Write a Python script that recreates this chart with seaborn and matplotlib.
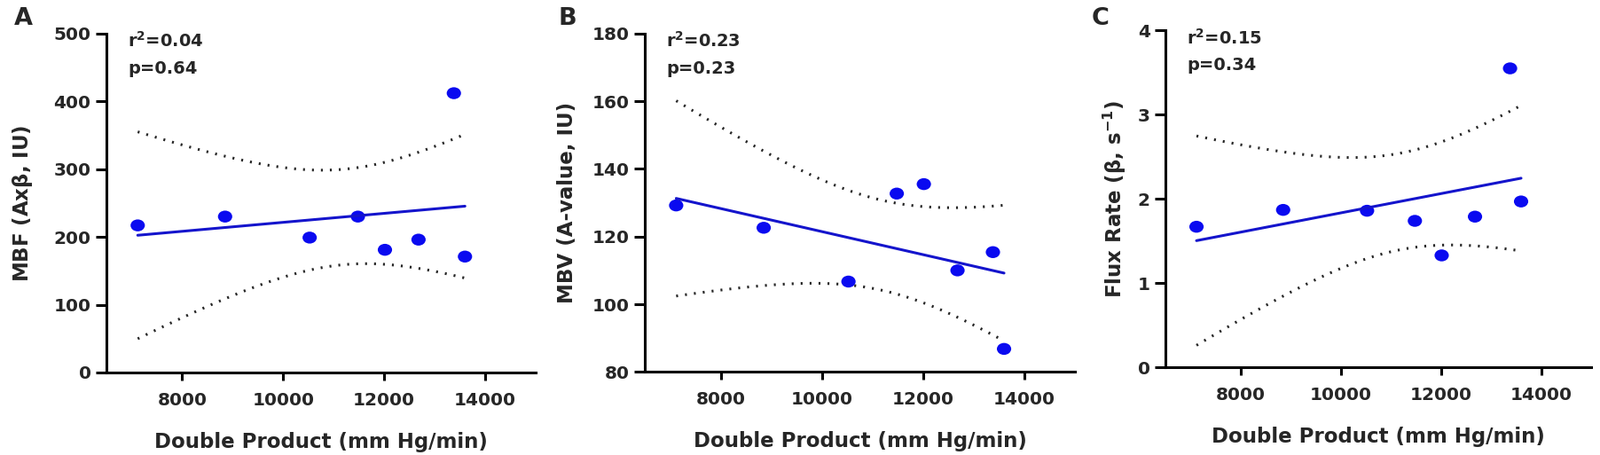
import numpy as np
import pandas as pd
import seaborn as sns
from matplotlib import pyplot as plt
from matplotlib.path import Path
from matplotlib.markers import MarkerStyle
from matplotlib.transforms import Affine2D

# Data ===================================================================
double_product = [7120, 8850, 10525, 11480, 12015, 12680, 13380, 13600]
mbf = [217, 230, 199, 230, 181, 196, 412, 171]
mbv = [129.2, 122.6, 106.7, 132.7, 135.5, 110.0, 115.4, 86.8]
flux_rate = [1.67, 1.87, 1.86, 1.74, 1.33, 1.79, 3.55, 1.97]

panel_letters = ["A", "B", "C"]
y_labels = [r"MBF (Ax$\mathbf{\beta}$, IU)", "MBV (A-value, IU)",
            r"Flux Rate ($\mathbf{\beta}$, s$^{\mathbf{-1}}$)"]
r2_text = [r"r$^{\mathbf{2}}$=0.04", r"r$^{\mathbf{2}}$=0.23", r"r$^{\mathbf{2}}$=0.15"]
p_text = ["p=0.64", "p=0.23", "p=0.34"]
y_limits = [(0, 500), (80, 180), (0, 4)]
y_ticks = [np.arange(0, 501, 100), np.arange(80, 181, 20), np.arange(0, 5, 1)]
x_ticks = [8000, 10000, 12000, 14000]

sns.set_style("ticks")
plt.rcParams["font.family"] = ["DejaVu Sans"]
plt.rcParams["font.weight"] = "bold"
plt.rcParams["mathtext.fontset"] = "dejavusans"
plt.rcParams["mathtext.default"] = "bf"

fig = plt.figure(figsize=(18.04, 5.13), dpi=100)
# [left, bottom, width, height] in figure fractions
positions = [[0.0665, 0.1813, 0.2683, 0.7450],
             [0.4030, 0.1826, 0.2688, 0.7437],
             [0.7284, 0.1924, 0.2661, 0.7407]]
letter_x = [0.009, 0.349, 0.682]
ylabel_x = [-0.196, -0.181, -0.119]

# the original is slightly stretched sideways, so dots are a bit oval
oval = MarkerStyle(Path.unit_circle().transformed(Affine2D().scale(1.2, 1.0)))


# 95% confidence band of a linear fit
def conf_band(x, y, xs):
    x = np.asarray(x, float)
    y = np.asarray(y, float)
    n = len(x)
    slope, icpt = np.polyfit(x, y, 1)
    resid = y - (slope * x + icpt)
    s = np.sqrt(np.sum(resid ** 2) / (n - 2))
    sxx = np.sum((x - x.mean()) ** 2)
    se = s * np.sqrt(1 / n + (xs - x.mean()) ** 2 / sxx)
    t = 2.447  # t(0.975, df=6)
    fit = slope * xs + icpt
    return fit, fit - t * se, fit + t * se


for i, yvals in enumerate([mbf, mbv, flux_rate]):
    ax = fig.add_axes(positions[i])
    df = pd.DataFrame({"x": double_product, "y": yvals})
    xs = np.linspace(min(double_product), max(double_product), 100)
    fit, lo, hi = conf_band(df["x"], df["y"], xs)

    dots = (0, (0.7, 2.6))
    ax.plot(xs, lo, color="#262626", lw=2.2, linestyle=dots)
    ax.plot(xs, hi, color="#262626", lw=2.2, linestyle=dots)
    sns.scatterplot(data=df, x="x", y="y", ax=ax, color="#0a0af0",
                    s=135, marker=oval, edgecolor="none", zorder=3)
    sns.lineplot(x=xs, y=fit, ax=ax, color="#1414cc", lw=2.2, zorder=4)

    ax.set_xlim(6500, 15000)
    ax.set_ylim(*y_limits[i])
    ax.set_xticks(x_ticks)
    ax.set_yticks(y_ticks[i])
    ax.set_xlabel("Double Product (mm Hg/min)", fontsize=16.5, fontweight="bold")
    ax.set_ylabel(y_labels[i], fontsize=16.5, fontweight="bold")
    ax.xaxis.label.set_va("baseline")
    ax.xaxis.set_label_coords(0.5, -0.222)
    ax.yaxis.label.set_va("center")
    ax.yaxis.set_label_coords(ylabel_x[i], 0.5)

    ax.tick_params(axis="both", labelsize=14.5, width=2.2, color="black")
    ax.tick_params(axis="x", length=6.5, pad=9)
    ax.tick_params(axis="y", length=9, pad=3.5)
    for lab in ax.get_xticklabels() + ax.get_yticklabels():
        lab.set_fontweight("bold")
    for side in ["left", "bottom"]:
        ax.spines[side].set_linewidth(2.2)
        ax.spines[side].set_color("black")
    sns.despine(ax=ax)

    ax.text(0.05, 0.96, r2_text[i], transform=ax.transAxes, fontsize=14,
            fontweight="bold", va="baseline", ha="left")
    ax.text(0.05, 0.882, p_text[i], transform=ax.transAxes, fontsize=14,
            fontweight="bold", va="baseline", ha="left")
    fig.text(letter_x[i], 0.985, panel_letters[i], fontsize=19.5,
             fontweight="bold", va="top", ha="left")

fig.savefig("out.png", dpi=100)
